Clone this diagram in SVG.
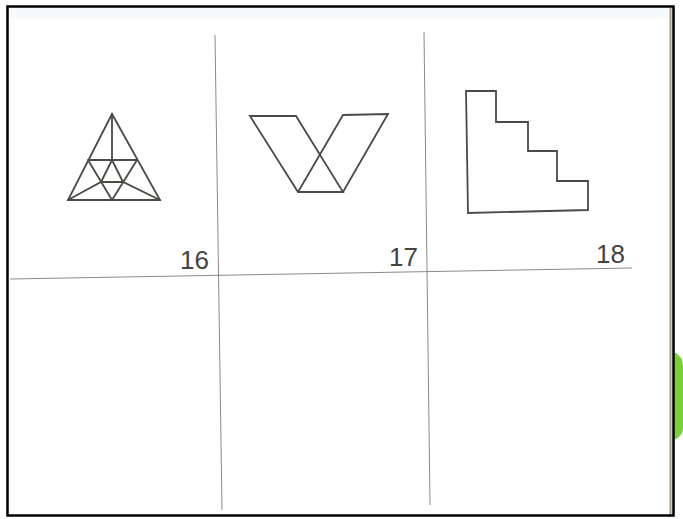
<svg xmlns="http://www.w3.org/2000/svg" width="683" height="519" viewBox="0 0 683 519">
  <style>
    .fig { fill: none; stroke: #4a4a46; stroke-width: 1.8; stroke-linejoin: miter; stroke-linecap: round; }
    .grid { fill: none; stroke: #8a8a8a; stroke-width: 1; }
    .num { font-family: "Liberation Sans", Arial, sans-serif; font-size: 26px; fill: #444; text-anchor: end; }
  </style>
  <rect x="0" y="0" width="683" height="519" fill="#ffffff"/>
  <!-- green tab -->
  <path d="M674,352 Q683,356 683,366 L683,428 Q683,436 674,440 Z" fill="#7ccf3a"/>
  <!-- faint top band -->
  <rect x="9" y="8" width="660" height="10" fill="#f6fafa"/>
  <!-- page edge -->
  <line x1="670.5" y1="8" x2="670.5" y2="516" stroke="#a59c8a" stroke-width="2"/>
  <!-- frame -->
  <rect x="7.5" y="6.5" width="666" height="509" fill="none" stroke="#000" stroke-width="2.5"/>

  <g id="connectors">
    <path class="grid" d="M215,35 L222,510"/>
    <path class="grid" d="M424,32 L430,505"/>
    <path class="grid" d="M10,279 L632,268"/>
  </g>

  <g id="fig16">
    <path class="fig" d="M112,114 L68,200 L160,200 Z"/>
    <path class="fig" d="M112,114 L112,160 M88,160 L137,160 M88,160 L112,200 M137,160 L112,200 M68,200 L101,182 L123,182 L160,200 M112,160 L101,182 M112,160 L123,182"/>
    <text class="num" x="209" y="269">16</text>
  </g>

  <g id="fig17">
    <path class="fig" d="M250,116 L296,116 L343,192 L298,192 Z M343,115 L388,114 L343,192 M343,115 L298,192"/>
    <text class="num" x="418" y="266">17</text>
  </g>

  <g id="fig18">
    <path class="fig" d="M466,91 L496,91 L496,122 L528,122 L528,151 L557,151 L557,181 L588,181 L588,210 L468,213 Z"/>
    <text class="num" x="625" y="263">18</text>
  </g>
</svg>
